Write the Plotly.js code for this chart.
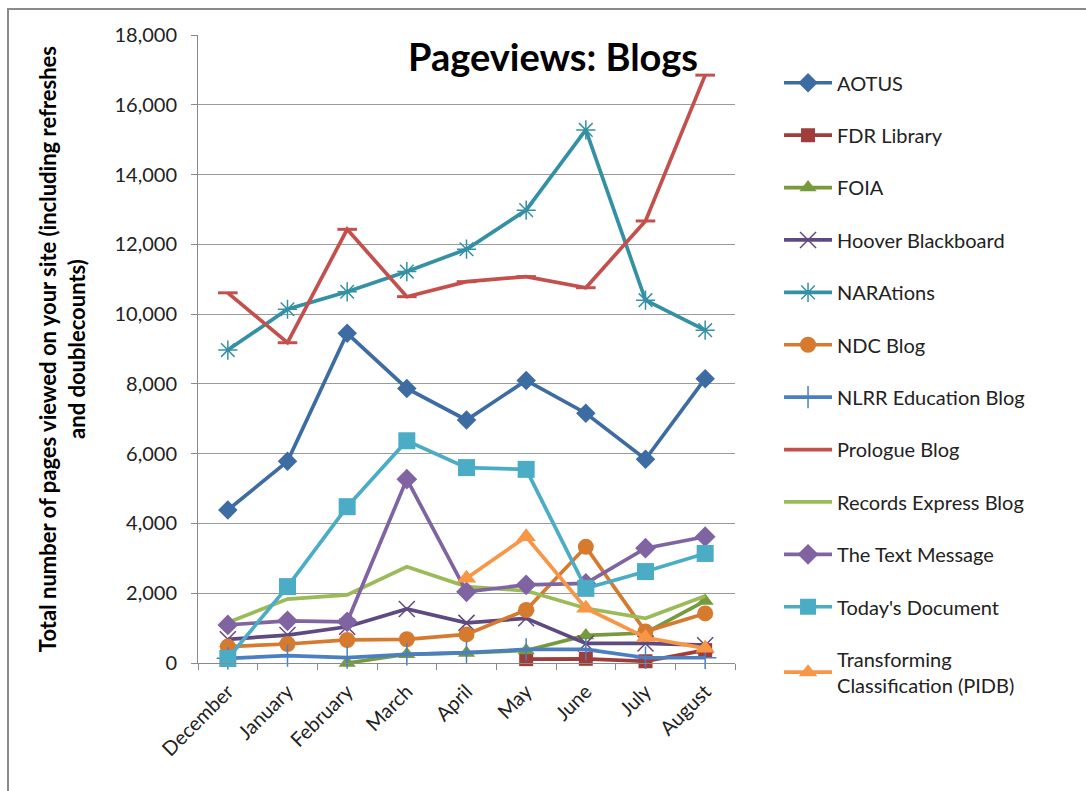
<!DOCTYPE html>
<html>
<head>
<meta charset="utf-8">
<script src="https://cdn.plot.ly/plotly-3.0.1.min.js"></script>
<style>
  html, body { margin: 0; padding: 0; background: #fff; }
  #wrap { position: relative; width: 1086px; height: 791px; overflow: hidden; }
  #chart { position: absolute; left: 0; top: 0; width: 1086px; height: 791px; }
  #frame { position: absolute; left: 7px; top: 8px; width: 1100px; height: 800px;
           border-top: 2px solid #8a8a8a; border-left: 2px solid #8a8a8a; pointer-events: none; }
</style>
</head>
<body>
<div id="wrap"><div id="chart"></div><div id="frame"></div></div>
<script>
const months = ["December", "January", "February", "March", "April", "May", "June", "July", "August"];

const aotus        = [4385, 5780, 9450, 7870, 6965, 8100, 7160, 5840, 8150];
const fdrLibrary   = [null, null, null, null, null, 110, 120, 50, 370];
const foia         = [0, null, 0, 250, 290, 360, 790, 860, 1780];
const hoover       = [680, 800, 1040, 1550, 1150, 1280, 560, 560, 510];
const narations    = [8970, 10140, 10640, 11220, 11860, 12980, 15280, 10400, 9540];
const ndcBlog      = [470, 545, 660, 680, 820, 1520, 3330, 900, 1420];
const nlrrEdu      = [135, 210, 155, 250, 300, 390, 390, 150, 150];
const prologue     = [10610, 9180, 12430, 10500, 10930, 11075, 10757, 12670, 16850];
const recordsExp   = [1160, 1830, 1950, 2760, 2190, 2070, 1570, 1280, 1920];
const textMessage  = [1090, 1210, 1180, 5270, 2040, 2240, 2280, 3290, 3620];
const todaysDoc    = [130, 2190, 4480, 6370, 5600, 5550, 2140, 2620, 3140];
const transforming = [null, null, null, null, 2430, 3620, 1570, 730, 420];

const seriesNames = ["AOTUS", "FDR Library", "FOIA", "Hoover Blackboard", "NARAtions", "NDC Blog",
  "NLRR Education Blog", "Prologue Blog", "Records Express Blog", "The Text Message",
  "Today's Document", "Transforming<br>Classification (PIDB)"];
const seriesData = [aotus, fdrLibrary, foia, hoover, narations, ndcBlog, nlrrEdu, prologue,
  recordsExp, textMessage, todaysDoc, transforming];

const styles = [
  {color: "#3D6CA3", symbol: "diamond", size: 15},
  {color: "#A03C3A", symbol: "square", size: 14},
  {color: "#779A3C", symbol: "triangle-up", size: 15},
  {color: "#5E4A80", symbol: "x-thin-open", size: 16},
  {color: "#3490A4", symbol: "asterisk-open", size: 16},
  {color: "#D67A30", symbol: "circle", size: 16},
  {color: "#4A7FC1", symbol: "cross-thin-open", size: 16},
  {color: "#C4504D", symbol: "line-ew-open", size: 14},
  {color: "#9BBB59", symbol: null, size: 0},
  {color: "#8064A2", symbol: "diamond", size: 16},
  {color: "#4BACC6", symbol: "square", size: 17},
  {color: "#F79646", symbol: "triangle-up", size: 17}
];

const traces = seriesData.map((vals, i) => {
  const s = styles[i];
  const thin = ["x-thin-open", "asterisk-open", "cross-thin-open"].includes(s.symbol);
  const t = {
    type: "scatter",
    x: months,
    y: vals,
    name: seriesNames[i],
    legendgroup: "g" + i,
    connectgaps: false,
    cliponaxis: false,
    line: {color: s.color, width: 3.7},
    mode: s.symbol ? "lines+markers" : "lines"
  };
  if (s.symbol) {
    t.marker = {
      symbol: s.symbol, size: s.size, color: s.color,
      line: {color: s.color, width: thin ? 1.5 : (s.symbol === "line-ew-open" ? 3 : 0)}
    };
  }
  return t;
});

const fontFam = "Lato, 'Open Sans', sans-serif";

const layout = {
  width: 1086,
  height: 791,
  margin: {l: 198, r: 351, t: 35, b: 128},
  paper_bgcolor: "#ffffff",
  plot_bgcolor: "#ffffff",
  font: {family: fontFam, size: 19, color: "#222"},
  showlegend: true,
  legend: {
    x: 1.082, xanchor: "left", y: 0.955, yanchor: "top",
    font: {family: fontFam, size: 20, color: "#222"},
    traceorder: "grouped",
    tracegroupgap: 23.4,
    itemwidth: 48,
    maxheight: 900,
    bgcolor: "rgba(0,0,0,0)"
  },
  xaxis: {
    type: "category",
    categoryorder: "array",
    categoryarray: months,
    range: [-0.5, 8.5],
    tickangle: -45,
    ticks: "outside",
    tickson: "boundaries",
    ticklen: 6,
    tickcolor: "#8a8a8a",
    showline: true,
    linecolor: "#8a8a8a",
    linewidth: 1,
    showgrid: false,
    ticklabelstandoff: 8,
    tickfont: {family: fontFam, size: 20, color: "#222"},
    fixedrange: true
  },
  yaxis: {
    range: [0, 18000],
    dtick: 2000,
    tick0: 0,
    tickformat: ",d",
    ticks: "outside",
    ticklen: 6,
    tickcolor: "#8a8a8a",
    showline: true,
    linecolor: "#8a8a8a",
    linewidth: 1,
    showgrid: true,
    gridcolor: "#9a9a9a",
    gridwidth: 1,
    zeroline: false,
    ticklabelstandoff: 10,
    tickfont: {family: fontFam, size: 20, color: "#222"},
    fixedrange: true
  },
  annotations: [
    {
      text: "<b>Pageviews: Blogs</b>",
      xref: "paper", yref: "paper",
      x: 0.661, y: 0.966, xanchor: "center", yanchor: "middle",
      showarrow: false,
      font: {family: fontFam, size: 38, color: "#000"}
    },
    {
      text: "<b>Total number of pages viewed on your site (including refreshes<br>and doublecounts)</b>",
      xref: "paper", yref: "paper",
      x: -0.253, y: 0.5, xanchor: "center", yanchor: "middle",
      textangle: -90,
      showarrow: false,
      align: "center",
      font: {family: fontFam, size: 22, color: "#000"}
    }
  ]
};

Plotly.newPlot("chart", traces, layout, {displayModeBar: false, staticPlot: true});
</script>
</body>
</html>
